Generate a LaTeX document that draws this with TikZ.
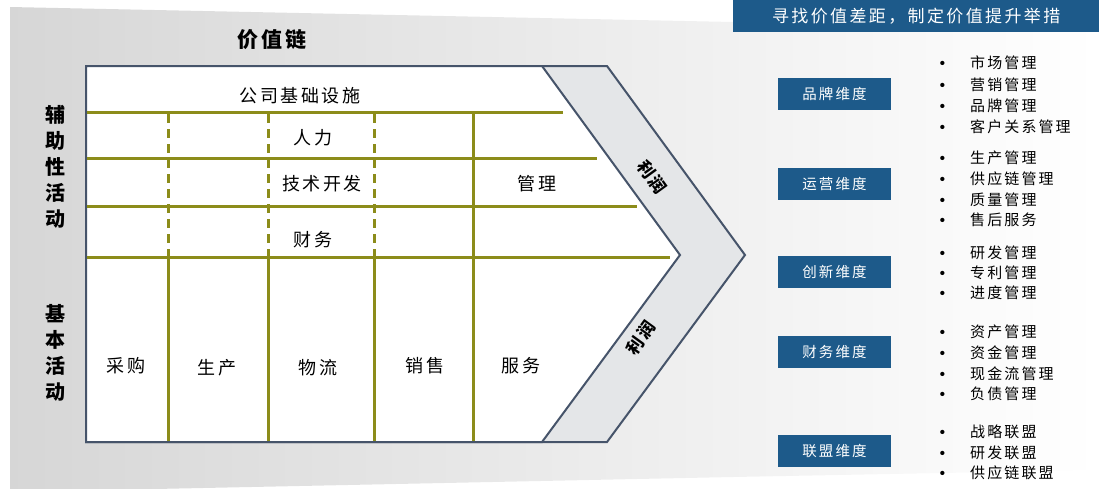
\documentclass[tikz,border=0pt]{standalone}
\usepackage{fontspec}
\newfontfamily\cjk[LetterSpace=14]{Noto Sans CJK SC}
\definecolor{olivebar}{HTML}{8C8C1A}
\definecolor{framegray}{HTML}{46546A}
\definecolor{boxblue}{HTML}{1D5A8A}
\definecolor{bandgray}{HTML}{E4E6E8}
\newcommand{\dotmark}{\llap{\normalfont\fontsize{19}{19}\selectfont\textbullet\hspace{21pt}}}

\begin{document}
\begin{tikzpicture}[x=1pt, y=-1pt,
    gridline/.style={olivebar, line width=3pt},
    dashline/.style={olivebar, line width=3pt, dash pattern=on 9pt off 6pt},
    cell/.style={inner sep=0pt, font=\cjk\fontsize{18}{20}\selectfont},
    side/.style={inner sep=0pt, align=center, font=\cjk\bfseries\fontsize{20}{26}\selectfont},
    profit/.style={inner sep=0pt, font=\cjk\bfseries\fontsize{17}{20}\selectfont},
    dimbox/.style={fill=boxblue, text=white, minimum width=113pt, minimum height=32pt, inner sep=0pt, font=\cjk\fontsize{14.5}{16}\selectfont},
    item/.style={anchor=west, inner sep=0pt, font=\cjk\fontsize{15}{17}\selectfont}]

    \useasboundingbox (0,0) rectangle (1099,488);
    % 背景
    \shade[left color=gray!32, right color=white] (10,7) -- (733,22) -- (1099,28) -- (1099,470) -- (733,477) -- (10,492) -- cycle;

    % 価値連鎖の枠
    \filldraw[framegray, fill=bandgray, line width=2pt] (86,66) -- (607,66) -- (745,255) -- (607,442) -- (86,442) -- cycle;
    \filldraw[framegray, fill=white, line width=2pt] (86,66) -- (542,66) -- (680,255) -- (542,442) -- (86,442) -- cycle;

    \draw[gridline] (87,112) -- (563,112);
    \draw[gridline] (87,158) -- (597,158);
    \draw[gridline] (87,206) -- (637,206);
    \draw[gridline] (87,257) -- (670,257);

    \draw[dashline] (168,114) -- (168,257);
    \draw[dashline] (268,114) -- (268,257);
    \draw[dashline] (374,114) -- (374,257);
    \draw[gridline] (168,257) -- (168,441);
    \draw[gridline] (268,257) -- (268,441);
    \draw[gridline] (374,257) -- (374,441);
    \draw[gridline] (473,112) -- (473,441);

    \node[inner sep=0pt, font=\cjk\bfseries\fontsize{21}{24}\selectfont] (chain) at (272,40) {价值链};
    \node[side] (support) at (55,167) {辅\\助\\性\\活\\动};
    \node[side] (primary) at (55,353) {基\\本\\活\\动};

    \node[cell] (infra) at (300,96) {公司基础设施};
    \node[cell] (hr) at (313,138) {人力};
    \node[cell] (tech) at (322,184) {技术开发};
    \node[cell] (fin) at (313,240) {财务};
    \node[cell] (mgmt) at (537,184) {管理};
    \node[cell] (buy) at (126,366) {采购};
    \node[cell] (prod) at (217,368) {生产};
    \node[cell] (logi) at (318,368) {物流};
    \node[cell] (sale) at (425,366) {销售};
    \node[cell] (serv) at (521,366) {服务};

    \node[profit, rotate=-54] (profitA) at (652,177) {利润};
    \node[profit, rotate=54] (profitB) at (641,338) {利润};

    % 右側
    \node[fill=boxblue, text=white, anchor=north west, minimum width=366pt, minimum height=32pt, inner sep=0pt, font=\cjk\fontsize{17}{20}\selectfont] (head) at (733,0) {寻找价值差距，制定价值提升举措};

    \node[dimbox] (brand) at (834.5,94) {品牌维度};
    \node[dimbox] (ops) at (834.5,184) {运营维度};
    \node[dimbox] (innov) at (834.5,272) {创新维度};
    \node[dimbox] (finance) at (834.5,352) {财务维度};
    \node[dimbox] (alliance) at (834.5,451) {联盟维度};

    \foreach \txt [count=\i] in {市场管理,营销管理,品牌管理,客户关系管理}
        \node[item] (brand-\i) at (970,{63+21.3*(\i-1)}) {\dotmark\txt};
    \foreach \txt [count=\i] in {生产管理,供应链管理,质量管理,售后服务}
        \node[item] (ops-\i) at (970,{158+20.7*(\i-1)}) {\dotmark\txt};
    \foreach \txt [count=\i] in {研发管理,专利管理,进度管理}
        \node[item] (innov-\i) at (970,{253+20*(\i-1)}) {\dotmark\txt};
    \foreach \txt [count=\i] in {资产管理,资金管理,现金流管理,负债管理}
        \node[item] (finance-\i) at (970,{332+20.7*(\i-1)}) {\dotmark\txt};
    \foreach \txt [count=\i] in {战略联盟,研发联盟,供应链联盟}
        \node[item] (alliance-\i) at (970,{432+20.5*(\i-1)}) {\dotmark\txt};

\end{tikzpicture}
\end{document}
